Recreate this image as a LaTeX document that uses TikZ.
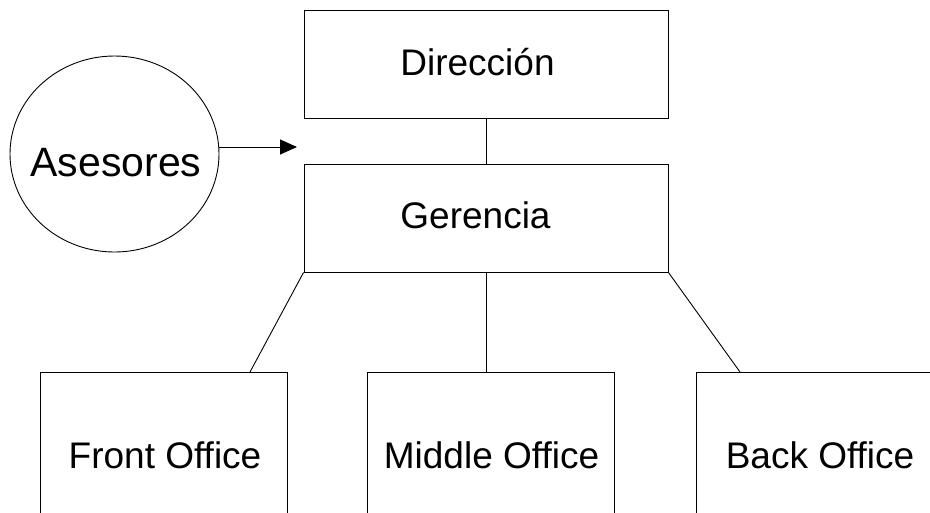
\documentclass[tikz,border=0pt]{standalone}
\usepackage{fontspec}
\setmainfont{Liberation Sans}
\usetikzlibrary{shapes.geometric,arrows.meta}
\begin{document}
\begin{tikzpicture}[x=1pt,y=-1pt,
  every node/.style={font=\fontsize{37}{40}\selectfont},
  box/.style={draw,line width=0.9pt,rectangle,inner sep=0pt},
  topbox/.style={box,minimum width=364pt,minimum height=108pt},
  offbox/.style={box,minimum width=247pt,minimum height=168pt},
  conn/.style={line width=0.9pt}]
\useasboundingbox (0,0) rectangle (930,512);
\clip (0,0) rectangle (930,512);
\fill[white] (0,0) rectangle (930,512);
\node[topbox] (dir) at (486,64) {};
\node at (477.5,62.5) {Dirección};
\node[topbox] (ger) at (486,218) {};
\node at (475.5,215.5) {Gerencia};
\node[draw,line width=0.9pt,ellipse,minimum width=209pt,minimum height=196pt,inner sep=0pt] (ase) at (114.5,154) {};
\node[font=\fontsize{41}{44}\selectfont] at (116,162.5) {Asesores};
\node[offbox] (fo) at (164,456) {};
\node at (165,455.5) {Front Office};
\node[offbox] (mo) at (491,456) {};
\node at (491.5,455) {Middle Office};
\node[offbox] (bo) at (819.5,456) {};
\node at (820,455.5) {Back Office};
\coordinate (tip) at (297,147);
\coordinate (foin) at (250,372);
\coordinate (moin) at (486,372);
\coordinate (boin) at (740,372);
\draw[conn] (dir.south) -- (ger.north);
\draw[conn,-{Triangle[length=17pt,width=15pt]}] (ase.east |- tip) -- (tip);
\draw[conn] (ger.south west) -- (foin);
\draw[conn] (ger.south) -- (moin);
\draw[conn] (ger.south east) -- (boin);
\end{tikzpicture}
\end{document}
